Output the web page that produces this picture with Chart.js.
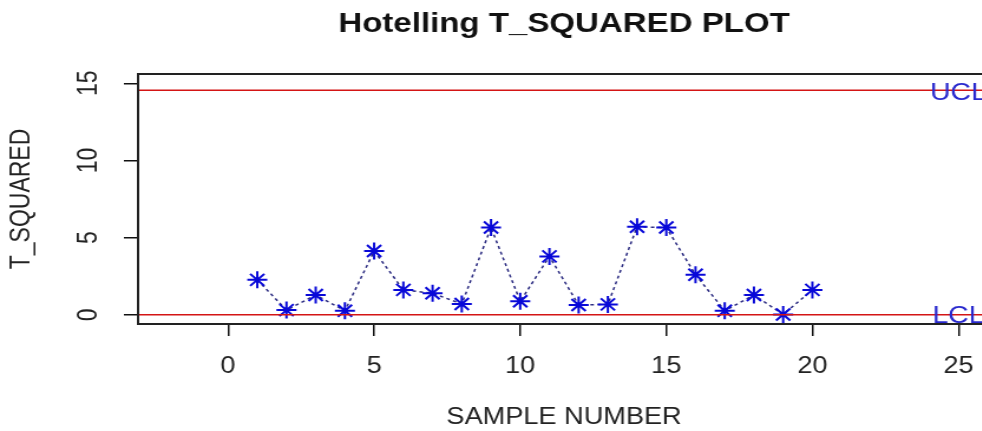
<!DOCTYPE html>
<html>
<head>
<meta charset="utf-8">
<title>Hotelling T_SQUARED PLOT</title>
<script src="https://cdn.jsdelivr.net/npm/chart.js@4.4.1/dist/chart.umd.min.js"></script>
<style>
    html, body { margin: 0; padding: 0; background: #fff; overflow: hidden; }
    /* the reference picture is stretched sideways, so the canvas is too */
    #chart { display: block; transform: scaleX(1.18); transform-origin: 0 0; }
</style>
</head>
<body>
<canvas id="chart" width="850" height="431"></canvas>
<script>
var samples = [1, 2, 3, 4, 5, 6, 7, 8, 9, 10, 11, 12, 13, 14, 15, 16, 17, 18, 19, 20];
var tSquared = [2.26, 0.30, 1.28, 0.26, 4.13, 1.61, 1.39, 0.70, 5.65, 0.87, 3.78, 0.63, 0.67, 5.70, 5.65, 2.59, 0.26, 1.28, 0.02, 1.61];
var uclValue = 14.55;
var lclValue = 0;
var xTicks = [0, 5, 10, 15, 20, 25];
var yTicks = [0, 5, 10, 15];
var xRange = [-3.08, 26.08];
var yRange = [-0.6, 15.6];

var fontFamily = '"Liberation Sans", Arial, sans-serif';

// title, box and the UCL / LCL labels
var extras = {
    id: 'extras',
    afterDraw: function (chart) {
        var ctx = chart.ctx;
        var area = chart.chartArea;
        var x = chart.scales.x;
        var y = chart.scales.y;
        ctx.save();
        ctx.strokeStyle = '#222';
        ctx.lineWidth = 2;
        ctx.strokeRect(area.left, area.top, area.right - area.left, area.bottom - area.top);

        ctx.fillStyle = '#111';
        ctx.font = 'bold 28px ' + fontFamily;
        ctx.textAlign = 'center';
        ctx.textBaseline = 'alphabetic';
        ctx.fillText('Hotelling T_SQUARED PLOT', (area.left + area.right) / 2, 32);

        ctx.fillStyle = 'rgb(40, 40, 205)';
        ctx.font = '24px ' + fontFamily;
        ctx.textBaseline = 'middle';
        ctx.fillText('UCL', x.getPixelForValue(25), y.getPixelForValue(uclValue) + 3);
        ctx.fillText('LCL', x.getPixelForValue(25), y.getPixelForValue(lclValue) + 2);
        ctx.restore();
    }
};

var points = samples.map(function (s, i) { return { x: s, y: tSquared[i] }; });

new Chart(document.getElementById('chart'), {
    type: 'line',
    data: {
        datasets: [{
            label: 'UCL',
            data: [{ x: xRange[0], y: uclValue }, { x: xRange[1], y: uclValue }],
            borderColor: '#d41515',
            borderWidth: 1.5,
            pointRadius: 0
        }, {
            label: 'LCL',
            data: [{ x: xRange[0], y: lclValue }, { x: xRange[1], y: lclValue }],
            borderColor: '#d41515',
            borderWidth: 1.5,
            pointRadius: 0
        }, {
            label: 'T_SQUARED',
            data: points,
            borderColor: '#2a2a80',
            borderWidth: 1.5,
            borderDash: [3, 3],
            tension: 0,
            pointStyle: 'star',
            pointRadius: 8.5,
            pointBorderColor: '#0808d8',
            pointBackgroundColor: '#0808d8',
            pointBorderWidth: 2
        }]
    },
    options: {
        responsive: false,
        animation: false,
        layout: { padding: { top: 74, right: 11, left: 0, bottom: 0 } },
        plugins: {
            legend: { display: false },
            tooltip: { enabled: false }
        },
        scales: {
            x: {
                type: 'linear',
                min: xRange[0],
                max: xRange[1],
                afterBuildTicks: function (scale) {
                    scale.ticks = xTicks.map(function (v) { return { value: v }; });
                },
                afterFit: function (scale) { scale.height = 107; },
                grid: { drawOnChartArea: false, tickLength: 12, color: '#111', lineWidth: 1.5 },
                border: { display: false },
                ticks: {
                    autoSkip: false,
                    maxRotation: 0,
                    padding: 17,
                    color: '#222',
                    font: { family: fontFamily, size: 23 }
                },
                title: {
                    display: true,
                    text: 'SAMPLE NUMBER',
                    color: '#222',
                    padding: { top: 0, bottom: 2 },
                    font: { family: fontFamily, size: 23, lineHeight: 1 }
                }
            },
            y: {
                type: 'linear',
                min: yRange[0],
                max: yRange[1],
                afterBuildTicks: function (scale) {
                    scale.ticks = yTicks.map(function (v) { return { value: v }; });
                },
                afterFit: function (scale) { scale.width = 117; },
                grid: { drawOnChartArea: false, tickLength: 12, color: '#111', lineWidth: 1.5 },
                border: { display: false },
                ticks: {
                    autoSkip: false,
                    minRotation: 90,
                    maxRotation: 90,
                    crossAlign: 'center',
                    padding: 17,
                    color: '#222',
                    font: { family: fontFamily, size: 23 }
                },
                title: {
                    display: true,
                    text: 'T_SQUARED',
                    color: '#222',
                    padding: { top: 5, bottom: 0 },
                    font: { family: fontFamily, size: 23 }
                }
            }
        }
    },
    plugins: [extras]
});
</script>
</body>
</html>
